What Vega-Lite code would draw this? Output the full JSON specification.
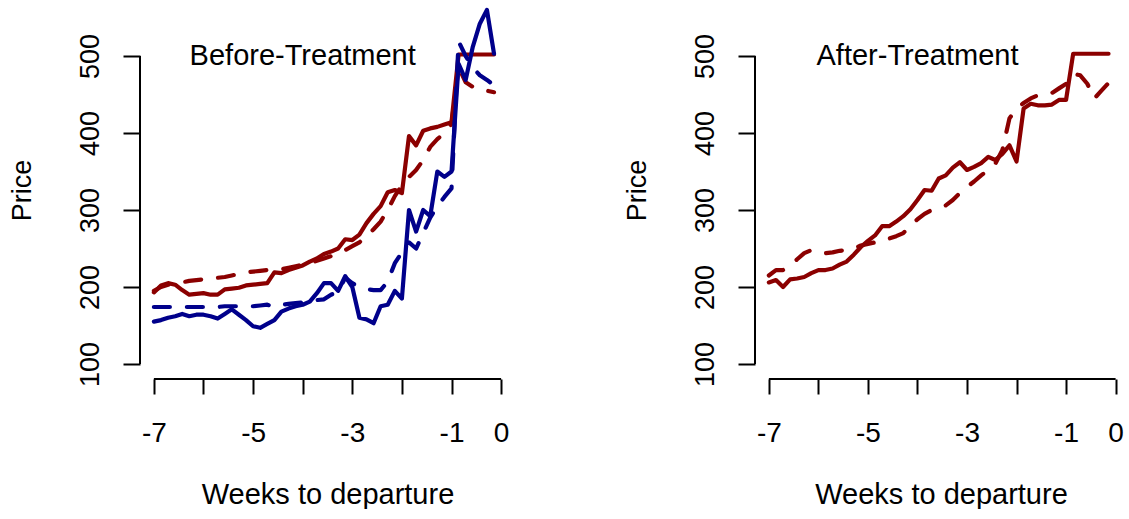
{
  "$schema": "https://vega.github.io/schema/vega-lite/v6.json",
  "background": "white",
  "padding": {"left": 8, "top": 1, "right": 0, "bottom": 0},
  "bounds": "flush",
  "spacing": 240,
  "datasets": {
    "before": [
      {"w": -7, "red": 193, "redAvg": 195, "blue": 155, "blueAvg": 174},
      {"w": -6.857, "red": 202, "redAvg": 200, "blue": 157, "blueAvg": 174},
      {"w": -6.714, "red": 205, "redAvg": 203, "blue": 160, "blueAvg": 174},
      {"w": -6.571, "red": 203, "redAvg": 205, "blue": 162, "blueAvg": 174},
      {"w": -6.429, "red": 196, "redAvg": 206, "blue": 165, "blueAvg": 174},
      {"w": -6.286, "red": 190, "redAvg": 208, "blue": 162, "blueAvg": 174},
      {"w": -6.143, "red": 191, "redAvg": 209, "blue": 164, "blueAvg": 174},
      {"w": -6, "red": 192, "redAvg": 210, "blue": 164, "blueAvg": 174},
      {"w": -5.857, "red": 190, "redAvg": 211, "blue": 162, "blueAvg": 174},
      {"w": -5.714, "red": 190, "redAvg": 212, "blue": 159, "blueAvg": 174},
      {"w": -5.571, "red": 197, "redAvg": 213, "blue": 165, "blueAvg": 175},
      {"w": -5.429, "red": 198, "redAvg": 215, "blue": 171, "blueAvg": 175},
      {"w": -5.286, "red": 199, "redAvg": 217, "blue": 164, "blueAvg": 175},
      {"w": -5.143, "red": 202, "redAvg": 219, "blue": 157, "blueAvg": 175},
      {"w": -5, "red": 203, "redAvg": 220, "blue": 149, "blueAvg": 175},
      {"w": -4.857, "red": 204, "redAvg": 221, "blue": 147, "blueAvg": 176},
      {"w": -4.714, "red": 205, "redAvg": 222, "blue": 152, "blueAvg": 177},
      {"w": -4.571, "red": 219, "redAvg": 222, "blue": 157, "blueAvg": 174},
      {"w": -4.429, "red": 218, "redAvg": 223, "blue": 168, "blueAvg": 177},
      {"w": -4.286, "red": 222, "redAvg": 225, "blue": 172, "blueAvg": 178},
      {"w": -4.143, "red": 225, "redAvg": 227, "blue": 175, "blueAvg": 179},
      {"w": -4, "red": 228, "redAvg": 229, "blue": 177, "blueAvg": 180},
      {"w": -3.857, "red": 233, "redAvg": 231, "blue": 181, "blueAvg": 182},
      {"w": -3.714, "red": 237, "redAvg": 234, "blue": 192, "blueAvg": 183},
      {"w": -3.571, "red": 243, "redAvg": 237, "blue": 205, "blueAvg": 184},
      {"w": -3.429, "red": 246, "redAvg": 240, "blue": 205, "blueAvg": 190},
      {"w": -3.286, "red": 250, "redAvg": 244, "blue": 195, "blueAvg": 194},
      {"w": -3.143, "red": 262, "redAvg": 248, "blue": 214, "blueAvg": 212},
      {"w": -3, "red": 261, "redAvg": 253, "blue": 200, "blueAvg": 205},
      {"w": -2.857, "red": 268, "redAvg": 258, "blue": 160, "blueAvg": 200},
      {"w": -2.714, "red": 283, "redAvg": 266, "blue": 158, "blueAvg": 197},
      {"w": -2.571, "red": 295, "redAvg": 275, "blue": 153, "blueAvg": 196},
      {"w": -2.429, "red": 305, "redAvg": 285, "blue": 175, "blueAvg": 196},
      {"w": -2.286, "red": 323, "redAvg": 300, "blue": 177, "blueAvg": 207},
      {"w": -2.143, "red": 326, "redAvg": 318, "blue": 195, "blueAvg": 231},
      {"w": -2, "red": 322, "redAvg": 332, "blue": 185, "blueAvg": 245},
      {"w": -1.857, "red": 396, "redAvg": 343, "blue": 300, "blueAvg": 258},
      {"w": -1.714, "red": 384, "redAvg": 352, "blue": 272, "blueAvg": 250},
      {"w": -1.571, "red": 403, "redAvg": 365, "blue": 300, "blueAvg": 270},
      {"w": -1.429, "red": 406, "redAvg": 382, "blue": 292, "blueAvg": 290},
      {"w": -1.286, "red": 408, "redAvg": 392, "blue": 350, "blueAvg": 305},
      {"w": -1.143, "red": 411, "redAvg": 400, "blue": 343, "blueAvg": 317},
      {"w": -1, "red": 414, "redAvg": 412, "blue": 350, "blueAvg": 328},
      {"w": -0.857, "red": 502, "redAvg": 485, "blue": 490, "blueAvg": 519},
      {"w": -0.714, "red": 502, "redAvg": 466, "blue": 469, "blueAvg": 500},
      {"w": -0.571, "red": 502, "redAvg": 460, "blue": 512, "blueAvg": 485},
      {"w": -0.429, "red": 502, "redAvg": 456, "blue": 542, "blueAvg": 475},
      {"w": -0.286, "red": 502, "redAvg": 455, "blue": 560, "blueAvg": 469},
      {"w": -0.143, "red": 502, "redAvg": 453, "blue": 503, "blueAvg": 462}
    ],
    "after": [
      {"w": -7, "red": 206, "redAvg": 215},
      {"w": -6.857, "red": 209, "redAvg": 222},
      {"w": -6.714, "red": 200, "redAvg": 222},
      {"w": -6.571, "red": 210, "redAvg": 228},
      {"w": -6.429, "red": 211, "redAvg": 236},
      {"w": -6.286, "red": 213, "redAvg": 244},
      {"w": -6.143, "red": 218, "redAvg": 248},
      {"w": -6, "red": 222, "redAvg": 245},
      {"w": -5.857, "red": 222, "redAvg": 244},
      {"w": -5.714, "red": 224, "redAvg": 245},
      {"w": -5.571, "red": 229, "redAvg": 247},
      {"w": -5.429, "red": 233, "redAvg": 248},
      {"w": -5.286, "red": 242, "redAvg": 250},
      {"w": -5.143, "red": 252, "redAvg": 254},
      {"w": -5, "red": 260, "redAvg": 256},
      {"w": -4.857, "red": 267, "redAvg": 258},
      {"w": -4.714, "red": 279, "redAvg": 262},
      {"w": -4.571, "red": 279, "redAvg": 263},
      {"w": -4.429, "red": 285, "redAvg": 266},
      {"w": -4.286, "red": 292, "redAvg": 270},
      {"w": -4.143, "red": 301, "redAvg": 280},
      {"w": -4, "red": 313, "redAvg": 288},
      {"w": -3.857, "red": 326, "redAvg": 295},
      {"w": -3.714, "red": 325, "redAvg": 300},
      {"w": -3.571, "red": 341, "redAvg": 303},
      {"w": -3.429, "red": 345, "redAvg": 306},
      {"w": -3.286, "red": 355, "redAvg": 313},
      {"w": -3.143, "red": 362, "redAvg": 322},
      {"w": -3, "red": 352, "redAvg": 330},
      {"w": -2.857, "red": 356, "redAvg": 337},
      {"w": -2.714, "red": 361, "redAvg": 345},
      {"w": -2.571, "red": 369, "redAvg": 352},
      {"w": -2.429, "red": 365, "redAvg": 360},
      {"w": -2.286, "red": 373, "redAvg": 378},
      {"w": -2.143, "red": 384, "redAvg": 419},
      {"w": -2, "red": 363, "redAvg": 432},
      {"w": -1.857, "red": 432, "redAvg": 439},
      {"w": -1.714, "red": 438, "redAvg": 445},
      {"w": -1.571, "red": 436, "redAvg": 449},
      {"w": -1.429, "red": 436, "redAvg": 450},
      {"w": -1.286, "red": 437, "redAvg": 452},
      {"w": -1.143, "red": 443, "redAvg": 458},
      {"w": -1, "red": 443, "redAvg": 464},
      {"w": -0.857, "red": 503, "redAvg": 477},
      {"w": -0.714, "red": 503, "redAvg": 475},
      {"w": -0.571, "red": 503, "redAvg": 464},
      {"w": -0.429, "red": 503, "redAvg": 445},
      {"w": -0.286, "red": 503, "redAvg": 455},
      {"w": -0.143, "red": 503, "redAvg": 465}
    ],
    "frame": [
      {"yLo": 100, "yHi": 500, "yEdge": -7.28, "xLo": -7, "xHi": 0, "xEdge": 80.5}
    ]
  },
  "hconcat": [
    {
      "width": 375,
      "height": 378,
      "layer": [
        {
          "data": {"name": "frame"},
          "mark": {"type": "rule", "color": "black", "strokeWidth": 2},
          "encoding": {
            "x": {"field": "yEdge", "type": "quantitative"},
            "y": {"field": "yLo", "type": "quantitative"},
            "y2": {"field": "yHi"}
          }
        },
        {
          "data": {"name": "frame"},
          "mark": {"type": "rule", "color": "black", "strokeWidth": 2},
          "encoding": {
            "x": {"field": "xLo", "type": "quantitative"},
            "x2": {"field": "xHi"},
            "y": {"field": "xEdge", "type": "quantitative"}
          }
        },
        {
          "data": {"name": "before"},
          "mark": {"type": "line", "color": "#8B0000", "strokeWidth": 4.2, "strokeCap": "round", "strokeJoin": "round"},
          "encoding": {
            "x": {"field": "w", "type": "quantitative"},
            "y": {"field": "red", "type": "quantitative"}
          }
        },
        {
          "data": {"name": "before"},
          "mark": {"type": "line", "color": "#8B0000", "strokeWidth": 4.2, "strokeCap": "round", "strokeJoin": "round", "strokeDash": [16, 17]},
          "encoding": {
            "x": {"field": "w", "type": "quantitative"},
            "y": {"field": "redAvg", "type": "quantitative"}
          }
        },
        {
          "data": {"name": "before"},
          "mark": {"type": "line", "color": "#00008B", "strokeWidth": 4.2, "strokeCap": "round", "strokeJoin": "round"},
          "encoding": {
            "x": {"field": "w", "type": "quantitative"},
            "y": {"field": "blue", "type": "quantitative"}
          }
        },
        {
          "data": {"name": "before"},
          "mark": {"type": "line", "color": "#00008B", "strokeWidth": 4.2, "strokeCap": "round", "strokeJoin": "round", "strokeDash": [16, 17]},
          "encoding": {
            "x": {"field": "w", "type": "quantitative"},
            "y": {"field": "blueAvg", "type": "quantitative"}
          }
        },
        {
          "data": {"values": [{"label": "Before-Treatment", "w": -4, "price": 500}]},
          "mark": {"type": "text", "fontSize": 29, "baseline": "middle", "align": "center", "color": "black"},
          "encoding": {
            "x": {"field": "w", "type": "quantitative"},
            "y": {"field": "price", "type": "quantitative"},
            "text": {"field": "label"}
          }
        }
      ],
      "encoding": {
        "x": {
          "type": "quantitative",
          "scale": {"domain": [-7.28, 0.28], "nice": false, "zero": false},
          "axis": {
            "values": [-7, -6, -5, -4, -3, -2, -1, 0],
            "labelExpr": "datum.value == -6 || datum.value == -4 || datum.value == -2 ? '' : '' + datum.value",
            "title": "Weeks to departure"
          }
        },
        "y": {
          "type": "quantitative",
          "scale": {"domain": [80.5, 571.5], "nice": false, "zero": false},
          "axis": {"values": [100, 200, 300, 400, 500], "title": "Price"}
        }
      }
    },
    {
      "width": 372,
      "height": 378,
      "layer": [
        {
          "data": {"name": "frame"},
          "mark": {"type": "rule", "color": "black", "strokeWidth": 2},
          "encoding": {
            "x": {"field": "yEdge", "type": "quantitative"},
            "y": {"field": "yLo", "type": "quantitative"},
            "y2": {"field": "yHi"}
          }
        },
        {
          "data": {"name": "frame"},
          "mark": {"type": "rule", "color": "black", "strokeWidth": 2},
          "encoding": {
            "x": {"field": "xLo", "type": "quantitative"},
            "x2": {"field": "xHi"},
            "y": {"field": "xEdge", "type": "quantitative"}
          }
        },
        {
          "data": {"name": "after"},
          "mark": {"type": "line", "color": "#8B0000", "strokeWidth": 4.2, "strokeCap": "round", "strokeJoin": "round"},
          "encoding": {
            "x": {"field": "w", "type": "quantitative"},
            "y": {"field": "red", "type": "quantitative"}
          }
        },
        {
          "data": {"name": "after"},
          "mark": {"type": "line", "color": "#8B0000", "strokeWidth": 4.2, "strokeCap": "round", "strokeJoin": "round", "strokeDash": [16, 17]},
          "encoding": {
            "x": {"field": "w", "type": "quantitative"},
            "y": {"field": "redAvg", "type": "quantitative"}
          }
        },
        {
          "data": {"values": [{"label": "After-Treatment", "w": -4, "price": 500}]},
          "mark": {"type": "text", "fontSize": 29, "baseline": "middle", "align": "center", "color": "black"},
          "encoding": {
            "x": {"field": "w", "type": "quantitative"},
            "y": {"field": "price", "type": "quantitative"},
            "text": {"field": "label"}
          }
        }
      ],
      "encoding": {
        "x": {
          "type": "quantitative",
          "scale": {"domain": [-7.28, 0.23], "nice": false, "zero": false},
          "axis": {
            "values": [-7, -6, -5, -4, -3, -2, -1, 0],
            "labelExpr": "datum.value == -6 || datum.value == -4 || datum.value == -2 ? '' : '' + datum.value",
            "title": "Weeks to departure"
          }
        },
        "y": {
          "type": "quantitative",
          "scale": {"domain": [80.5, 571.5], "nice": false, "zero": false},
          "axis": {"values": [100, 200, 300, 400, 500], "title": "Price"}
        }
      }
    }
  ],
  "config": {
    "view": {"stroke": null},
    "font": "Liberation Sans",
    "text": {"font": "Liberation Sans"},
    "axis": {
      "domain": false,
      "grid": false,
      "ticks": true,
      "tickColor": "black",
      "tickWidth": 2,
      "labelColor": "black",
      "titleColor": "black",
      "labelFont": "Liberation Sans",
      "titleFont": "Liberation Sans",
      "labelFontSize": 27,
      "titleFontSize": 27,
      "titleFontWeight": "normal",
      "labelOverlap": false,
      "labelFlush": false
    },
    "axisX": {
      "tickSize": 15,
      "labelPadding": 47,
      "labelFontSize": 28,
      "titleFontSize": 29,
      "labelBaseline": "alphabetic",
      "titleBaseline": "alphabetic",
      "titleY": 124
    },
    "axisY": {
      "tickSize": 17,
      "labelAngle": -90,
      "labelAlign": "center",
      "labelBaseline": "alphabetic",
      "labelPadding": 25,
      "titleAngle": -90,
      "titleAlign": "center",
      "titleBaseline": "alphabetic",
      "titleX": -110,
      "titleY": 189
    }
  }
}
